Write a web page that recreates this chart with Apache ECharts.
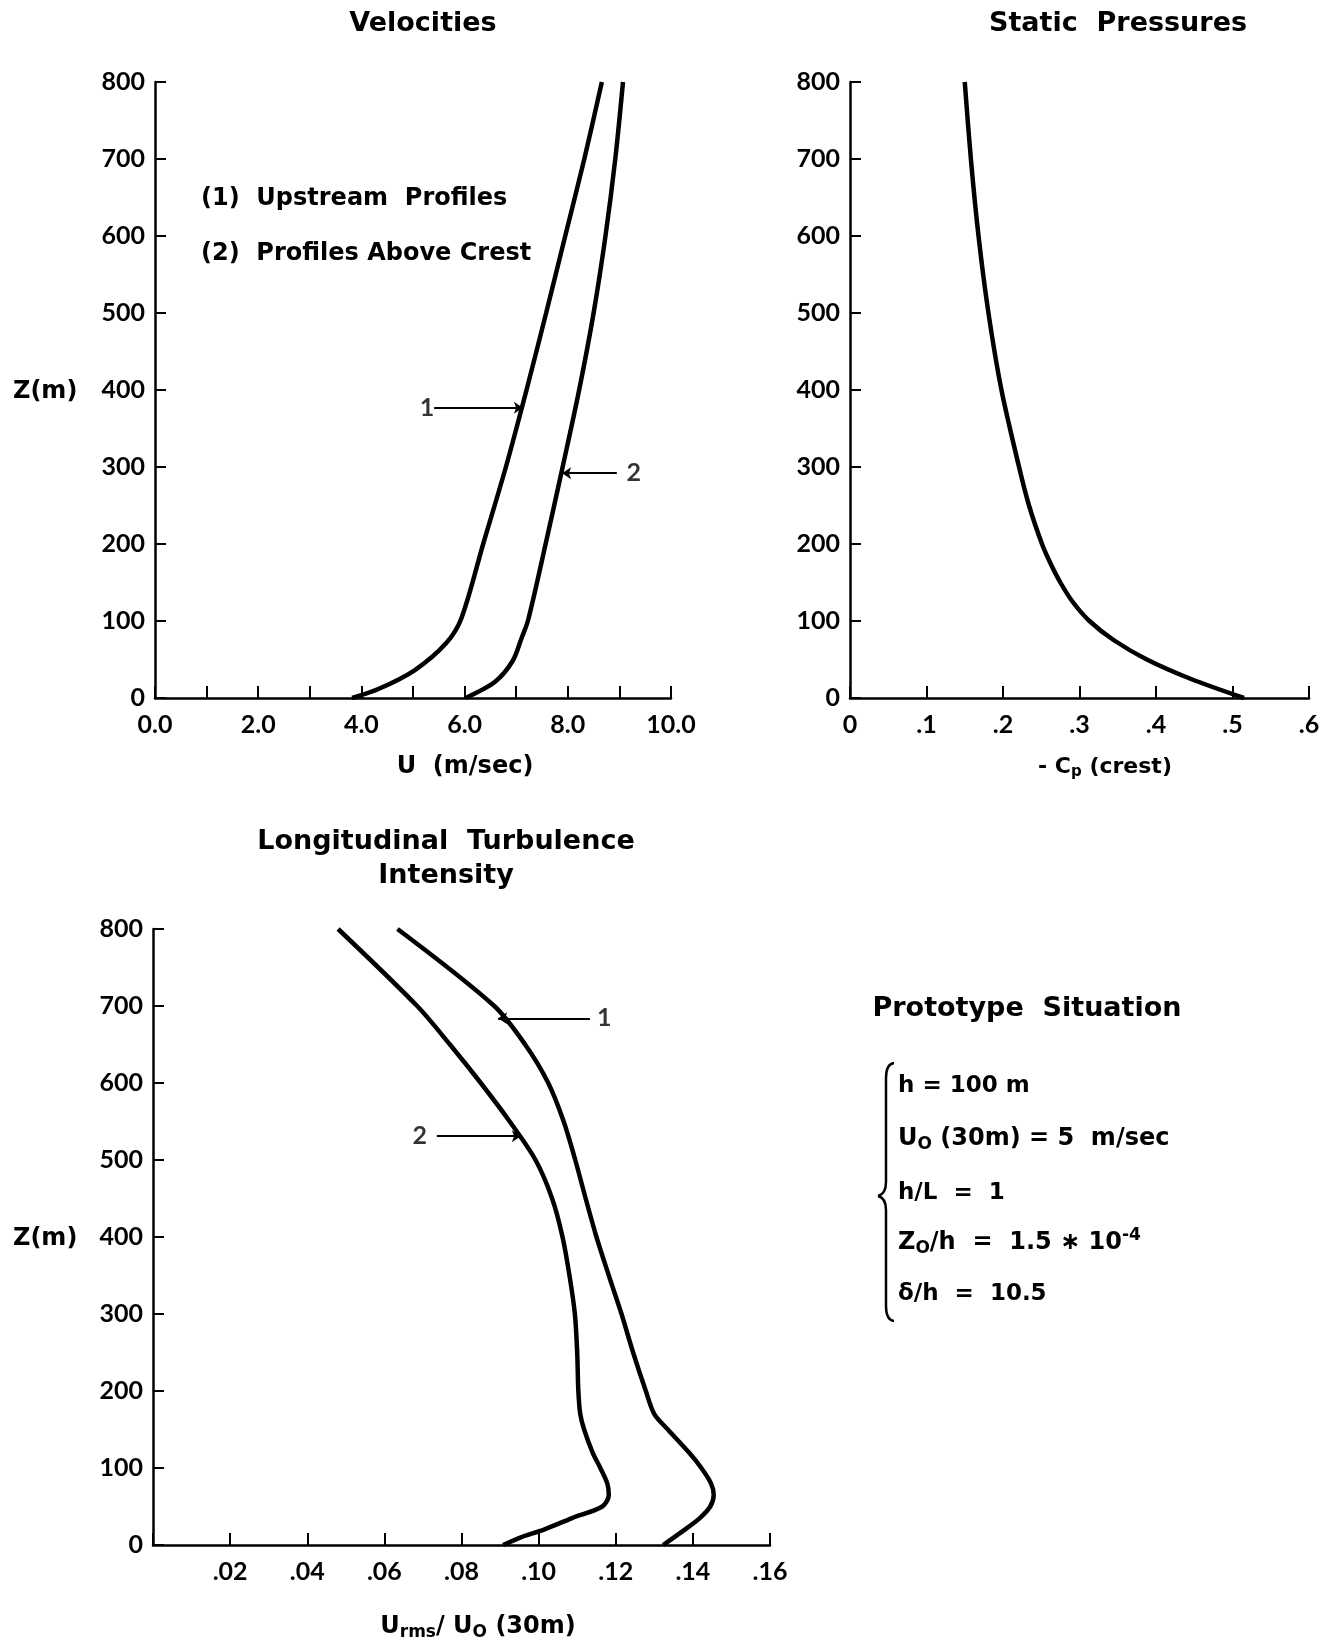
<!DOCTYPE html>
<html>
<head>
<meta charset="utf-8">
<script src="https://cdn.jsdelivr.net/npm/echarts@6/dist/echarts.min.js"></script>
<style>
html,body{margin:0;padding:0;background:#fff;}
#chart{width:1334px;height:1643px;}
</style>
</head>
<body>
<div id="chart"></div>
<script>
// ---------- data ----------
const zTicks = [0, 100, 200, 300, 400, 500, 600, 700, 800];

// Velocities (U m/sec vs Z m)
const velZ1 = [0, 12, 36, 71, 104, 200, 300, 400, 500, 600, 700, 800];
const velU1 = [3.82, 4.34, 5.03, 5.64, 5.94, 6.36, 6.80, 7.20, 7.58, 7.95, 8.32, 8.66];
const velZ2 = [0, 21, 48, 77, 101, 200, 300, 400, 500, 600, 700, 800];
const velU2 = [6.02, 6.59, 6.93, 7.10, 7.23, 7.57, 7.90, 8.22, 8.50, 8.73, 8.92, 9.07];

// Static pressures (-Cp crest vs Z)
const cpZ = [0, 25, 50, 75, 100, 125, 150, 175, 200, 250, 300, 400, 500, 600, 700, 800];
const cpV = [0.515, 0.445, 0.388, 0.345, 0.313, 0.291, 0.275, 0.262, 0.251, 0.234, 0.221, 0.198, 0.181, 0.168, 0.158, 0.150];

// Longitudinal turbulence intensity (Urms/Uo vs Z)
const turbZ1 = [0, 20, 35, 50, 65, 80, 100, 120, 150, 170, 200, 250, 300, 350, 400, 450, 500, 550, 600, 650, 700, 800];
const turbI1 = [0.1323, 0.1379, 0.1418, 0.1445, 0.1454, 0.1447, 0.1422, 0.1390, 0.1335, 0.1300, 0.1278, 0.1245, 0.1215, 0.1182, 0.1150, 0.1122, 0.1095, 0.1065, 0.1025, 0.0965, 0.0885, 0.0634];
const turbZ2 = [0, 10, 20, 35, 50, 65, 80, 100, 120, 150, 170, 200, 250, 300, 350, 400, 450, 500, 550, 600, 650, 700, 800];
const turbI2 = [0.0908, 0.0954, 0.1014, 0.1087, 0.1165, 0.1182, 0.1178, 0.1160, 0.1140, 0.1118, 0.1108, 0.1103, 0.1100, 0.1094, 0.1080, 0.1062, 0.1035, 0.0992, 0.0925, 0.0850, 0.0770, 0.0685, 0.0480];

// Curve annotations: [labelX, tailX, tipX, z]
const velNote1 = [5.27, 5.41, 7.13, 377];
const velNote2 = [9.28, 8.95, 7.89, 292];
const turbNote1 = [0.117, 0.1133, 0.0895, 684];
const turbNote2 = [0.0692, 0.0736, 0.0954, 531];

// ---------- helpers ----------
const NUMFONT = 'Lato';
const TXTFONT = 'DejaVu Sans';
const pairs = (xs, zs) => xs.map((x, i) => [x, zs[i]]);

function yAxisCfg(gi) {
  return {
    type: 'value', gridIndex: gi, min: 0, max: 800, interval: 100,
    axisLine: {show: true, lineStyle: {color: '#000', width: 2.5}},
    axisTick: {show: true, inside: true, length: 11, lineStyle: {color: '#000', width: 2}},
    axisLabel: {color: '#000', fontSize: 25, fontFamily: NUMFONT, fontWeight: 'bold', margin: 10,
                showMinLabel: true, showMaxLabel: true},
    splitLine: {show: false}
  };
}
function xAxisCfg(gi, max, interval, fmt) {
  return {
    type: 'value', gridIndex: gi, min: 0, max: max, interval: interval,
    axisLine: {show: true, onZero: false, lineStyle: {color: '#000', width: 2.5}},
    axisTick: {show: true, inside: true, length: 12, lineStyle: {color: '#000', width: 2}},
    axisLabel: {color: '#000', fontSize: 25, fontFamily: NUMFONT, fontWeight: 'bold', margin: 14,
                formatter: fmt, showMinLabel: true, showMaxLabel: true, hideOverlap: false},
    splitLine: {show: false}
  };
}
function curve(gi, data) {
  return {
    type: 'line', xAxisIndex: gi, yAxisIndex: gi, data: data,
    symbol: 'none', smooth: 0.3,
    lineStyle: {color: '#000', width: 4.5}, silent: true, animation: false
  };
}
function arrow(gi, note) {
  return {
    type: 'lines', coordinateSystem: 'cartesian2d', xAxisIndex: gi, yAxisIndex: gi,
    symbol: ['none', 'arrow'], symbolSize: [0, 9],
    lineStyle: {color: '#000', width: 1.8, opacity: 1},
    data: [{coords: [[note[1], note[3]], [note[2], note[3]]]}],
    silent: true, animation: false
  };
}
function noteLabel(gi, note, text) {
  return {
    type: 'scatter', xAxisIndex: gi, yAxisIndex: gi, symbolSize: 0,
    data: [[note[0], note[3]]],
    label: {show: true, position: 'inside', formatter: text, color: '#000',
            fontSize: 25, fontFamily: NUMFONT, fontWeight: 'bold'},
    silent: true, animation: false
  };
}
function txt(x, y, text, size, opts) {
  const o = opts || {};
  return {
    type: 'text', x: x, y: y, silent: true,
    style: Object.assign({
      text: text, fill: '#000',
      fontSize: size, fontFamily: o.family || TXTFONT, fontWeight: 'bold',
      textAlign: o.align || 'left', textVerticalAlign: 'middle'
    }, o.style || {})
  };
}
function subRich(base) {
  return {
    sub: {fontSize: Math.round(base * 0.7), fontFamily: TXTFONT, fontWeight: 'bold', fill: '#000', padding: [Math.round(base * 0.5), 0, 0, 0]},
    sup: {fontSize: Math.round(base * 0.7), fontFamily: TXTFONT, fontWeight: 'bold', fill: '#000', padding: [0, 0, Math.round(base * 0.6), 0]}
  };
}
function seg(x1, y1, x2, y2) {
  return {type: 'line', silent: true, shape: {x1: x1, y1: y1, x2: x2, y2: y2},
          style: {stroke: '#000', lineWidth: 2.5}};
}
function curl(x1, y1, cx, cy, x2, y2) {
  return {type: 'bezierCurve', silent: true,
          shape: {x1: x1, y1: y1, cpx1: cx, cpy1: cy, x2: x2, y2: y2},
          style: {stroke: '#000', lineWidth: 2.5, fill: 'none'}};
}

const chart = echarts.init(document.getElementById('chart'), null, {renderer: 'canvas'});

const option = {
  backgroundColor: '#fff',
  animation: false,
  grid: [
    {left: 155, top: 82, width: 516, height: 616},
    {left: 850, top: 82, width: 459, height: 616},
    {left: 153, top: 929, width: 617, height: 616}
  ],
  xAxis: [
    xAxisCfg(0, 10, 1, v => (Math.round(v) % 2 === 0 ? v.toFixed(1) : '')),
    xAxisCfg(1, 0.6, 0.1, v => (v === 0 ? '0' : '.' + Math.round(v * 10))),
    xAxisCfg(2, 0.16, 0.02, v => (v === 0 ? '' : '.' + String(Math.round(v * 100)).padStart(2, '0')))
  ],
  yAxis: [yAxisCfg(0), yAxisCfg(1), yAxisCfg(2)],
  series: [
    curve(0, pairs(velU1, velZ1)),
    curve(0, pairs(velU2, velZ2)),
    curve(1, pairs(cpV, cpZ)),
    curve(2, pairs(turbI1, turbZ1)),
    curve(2, pairs(turbI2, turbZ2)),
    arrow(0, velNote1), arrow(0, velNote2), arrow(2, turbNote1), arrow(2, turbNote2),
    noteLabel(0, velNote1, '1'), noteLabel(0, velNote2, '2'),
    noteLabel(2, turbNote1, '1'), noteLabel(2, turbNote2, '2')
  ],
  graphic: [
    txt(423, 24, 'Velocities', 27, {align: 'center'}),
    txt(1118, 24, 'Static  Pressures', 27, {align: 'center'}),
    txt(446, 842, 'Longitudinal  Turbulence', 27, {align: 'center'}),
    txt(446, 876, 'Intensity', 27, {align: 'center'}),
    txt(201, 199, '(1)  Upstream  Profiles', 24),
    txt(201, 254, '(2)  Profiles Above Crest', 24),
    txt(13, 392, 'Z(m)', 24),
    txt(13, 1239, 'Z(m)', 24),
    txt(465, 767, 'U  (m/sec)', 24, {align: 'center'}),
    txt(1105, 767, '- C{sub|p} (crest)', 22, {align: 'center', style: {rich: subRich(22)}}),
    txt(478, 1627, 'U{sub|rms}/ U{sub|O} (30m)', 24, {align: 'center', style: {rich: subRich(24)}}),
    txt(1027, 1009, 'Prototype  Situation', 27, {align: 'center'}),
    txt(898, 1086, 'h = 100 m', 23),
    txt(898, 1139, 'U{sub|O} (30m) = 5  m/sec', 24, {style: {rich: subRich(24)}}),
    txt(898, 1193, 'h/L  =  1', 23),
    txt(898, 1243, 'Z{sub|O}/h  =  1.5 ∗ 10{sup|-4}', 24, {style: {rich: subRich(24)}}),
    txt(898, 1294, 'δ/h  =  10.5', 23),
    curl(894, 1063, 886, 1064, 886, 1078),
    seg(886, 1078, 886, 1182),
    curl(886, 1182, 886, 1194, 878, 1196),
    curl(878, 1196, 886, 1198, 886, 1210),
    seg(886, 1210, 886, 1306),
    curl(886, 1306, 886, 1320, 894, 1321)
  ]
};
chart.setOption(option);
</script>
</body>
</html>
